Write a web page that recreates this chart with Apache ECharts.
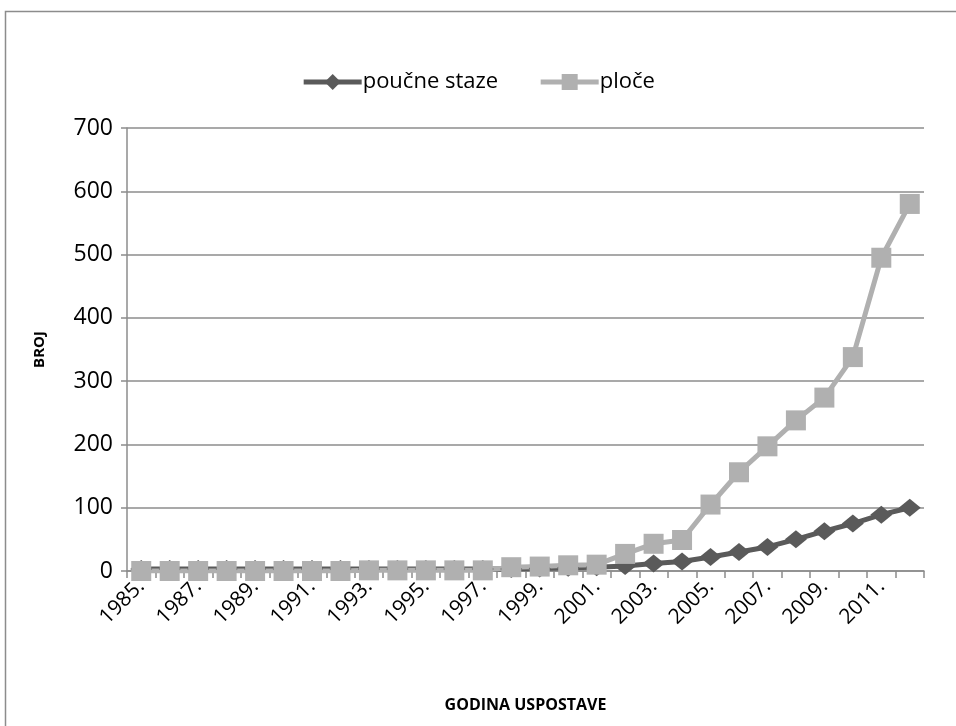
<!DOCTYPE html>
<html>
<head>
<meta charset="utf-8">
<script src="https://cdn.jsdelivr.net/npm/echarts@6/dist/echarts.min.js"></script>
<style>
  html, body { margin: 0; padding: 0; background: #fff; }
  #chart { width: 956px; height: 726px; }
</style>
</head>
<body>
<div id="chart"></div>
<script>
// godine uspostave
const years = [
  '1985.', '1986.', '1987.', '1988.', '1989.', '1990.', '1991.', '1992.', '1993.', '1994.',
  '1995.', '1996.', '1997.', '1998.', '1999.', '2000.', '2001.', '2002.', '2003.', '2004.',
  '2005.', '2006.', '2007.', '2008.', '2009.', '2010.', '2011.', '2012.'
];
const stazeValues = [3, 3, 3, 3, 3, 3, 3, 3, 3, 3, 3, 3, 3, 3, 4, 5, 6, 8, 12, 15, 22, 30, 38, 50, 63, 75, 89, 100];
const ploceValues = [0, 0, 0, 0, 0, 0, 0, 0, 1, 1, 1, 1, 1, 6, 7, 9, 10, 27, 43, 49, 105, 156, 197, 238, 274, 338, 495, 580];
const yTicks = [0, 100, 200, 300, 400, 500, 600, 700];

const font = 'Open Sans, Noto Sans, sans-serif';
const chart = echarts.init(document.getElementById('chart'));

chart.setOption({
  animation: false,
  graphic: [{
    type: 'rect',
    shape: { x: 5.5, y: 11.5, width: 1000, height: 1000 },
    style: { fill: 'none', stroke: '#8c8c8c', lineWidth: 1.5 },
    silent: true
  }],
  legend: {
    top: 66,
    left: 'center',
    itemWidth: 58,
    itemHeight: 20,
    itemGap: 40,
    lineStyle: { width: 5 },
    textStyle: { fontFamily: font, fontSize: 22, color: '#000', padding: [0, 0, 0, -4] },
    data: ['poučne staze', 'ploče']
  },
  grid: { left: 127, right: 32, top: 128, bottom: 155 },
  xAxis: {
    type: 'category',
    data: years,
    name: 'GODINA USPOSTAVE',
    nameLocation: 'middle',
    nameGap: 126,
    nameTextStyle: { fontFamily: font, fontSize: 16, fontWeight: 'bold', color: '#000' },
    axisLine: { lineStyle: { color: '#8c8c8c', width: 1.5 } },
    axisTick: { show: true, alignWithLabel: false, interval: 0, length: 7, lineStyle: { color: '#8c8c8c', width: 1.5 } },
    axisLabel: {
      interval: 1,
      rotate: 45,
      margin: 12,
      fontFamily: font,
      fontSize: 21,
      color: '#000'
    }
  },
  yAxis: {
    type: 'value',
    min: yTicks[0],
    max: yTicks[yTicks.length - 1],
    interval: 100,
    name: 'BROJ',
    nameLocation: 'middle',
    nameGap: 80,
    nameRotate: 90,
    nameTextStyle: { fontFamily: font, fontSize: 15, fontWeight: 'bold', color: '#000' },
    axisLine: { show: true, lineStyle: { color: '#8c8c8c', width: 1.5 } },
    axisTick: { show: true, inside: false, length: 6, lineStyle: { color: '#8c8c8c', width: 1.5 } },
    axisLabel: { fontFamily: font, fontSize: 23, color: '#000', margin: 14 },
    splitLine: { lineStyle: { color: '#8c8c8c', width: 1.5 } }
  },
  series: [
    {
      name: 'poučne staze',
      type: 'line',
      data: stazeValues,
      symbol: 'diamond',
      symbolSize: [22, 18],
      showAllSymbol: true,
      lineStyle: { color: '#5a5a5a', width: 5 },
      itemStyle: { color: '#5a5a5a' }
    },
    {
      name: 'ploče',
      type: 'line',
      data: ploceValues,
      symbol: 'rect',
      symbolSize: 20,
      showAllSymbol: true,
      lineStyle: { color: '#b0b0b0', width: 5 },
      itemStyle: { color: '#b0b0b0' }
    }
  ]
});

window.addEventListener('resize', () => chart.resize());
</script>
</body>
</html>
